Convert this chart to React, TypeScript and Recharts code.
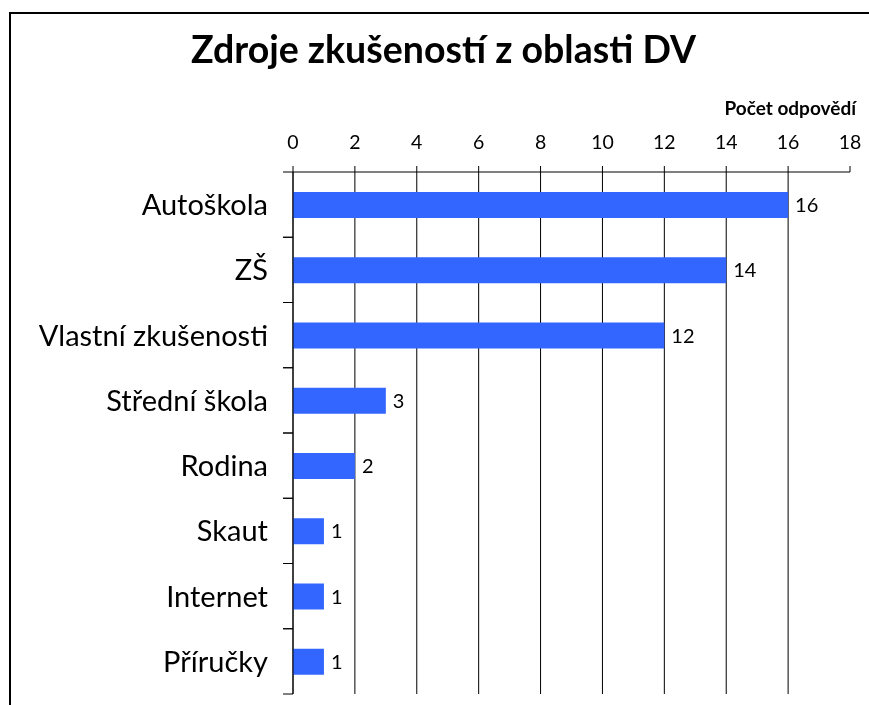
import React from "react";
import { BarChart, Bar, XAxis, YAxis, CartesianGrid, LabelList } from "recharts";

const categories = ["Autoškola", "ZŠ", "Vlastní zkušenosti", "Střední škola", "Rodina", "Skaut", "Internet", "Příručky"];
const counts = [16, 14, 12, 3, 2, 1, 1, 1];
const xTicks = [0, 2, 4, 6, 8, 10, 12, 14, 16, 18];
const gridValues = [0, 2, 4, 6, 8, 10, 12, 14, 16];
const titleText = "Zdroje zkušeností z oblasti DV";
const axisTitle = "Počet odpovědí";

const data = categories.map((name, i) => ({ name, value: counts[i] }));

const FONT = "Lato, 'Noto Sans', sans-serif";
const W = 861;
const H = 697;

const CategoryTick = (props: any) => {
  const { x, y, payload } = props;
  const off = payload && typeof payload.offset === "number" && payload.offset > 0 ? payload.offset : 32.6;
  return (
    <g>
      <line x1={x - 10} x2={x} y1={y - off} y2={y - off} stroke="#000" />
      <line x1={x - 10} x2={x} y1={y + off} y2={y + off} stroke="#000" />
      <text x={x - 25} y={y} dy="0.36em" textAnchor="end" fontFamily={FONT} fontSize={29} fill="#000">
        {payload.value}
      </text>
    </g>
  );
};

export default function App() {
  return (
    <div style={{ position: "relative", width: W, height: H, overflow: "hidden", marginBottom: -8, background: "#fff" }}>
      <div
        style={{
          position: "fixed",
          left: 9,
          top: 12,
          right: 0,
          bottom: 0,
          borderLeft: "2px solid #000",
          borderTop: "2px solid #000",
          boxSizing: "border-box",
          pointerEvents: "none",
        }}
      />
      <div style={{ position: "absolute", left: 0, top: 0 }}>
        <BarChart
          width={W}
          height={H}
          data={data}
          layout="vertical"
          margin={{ top: 124, right: 19, bottom: 11, left: 0 }}
          barSize={26}
        >
          <CartesianGrid horizontal={false} verticalValues={gridValues} stroke="#000" />
          <XAxis
            type="number"
            orientation="top"
            domain={[0, 18]}
            ticks={xTicks}
            height={40}
            tickSize={6}
            tickMargin={17}
            axisLine={{ stroke: "#000" }}
            tickLine={{ stroke: "#000" }}
            tick={{ fontFamily: FONT, fontSize: 19.5, fill: "#000" }}
          />
          <YAxis
            type="category"
            dataKey="name"
            width={285}
            tickSize={0}
            tickMargin={0}
            tickLine={false}
            axisLine={{ stroke: "#000" }}
            tick={<CategoryTick />}
            interval={0}
          />
          <Bar dataKey="value" fill="#3366FF" isAnimationActive={false}>
            <LabelList dataKey="value" position="right" offset={7} fontFamily={FONT} fontSize={20} fill="#000" />
          </Bar>
        </BarChart>
      </div>
      <svg width={W} height={H} style={{ position: "absolute", left: 0, top: 0, pointerEvents: "none" }}>
        <text x={435.5} y={55} textAnchor="middle" fontFamily={FONT} fontWeight="bold" fontSize={37.5} fill="#000">
          {titleText}
        </text>
        <text x={848} y={107} textAnchor="end" fontFamily={FONT} fontWeight="bold" fontSize={19} fill="#000">
          {axisTitle}
        </text>
      </svg>
    </div>
  );
}
